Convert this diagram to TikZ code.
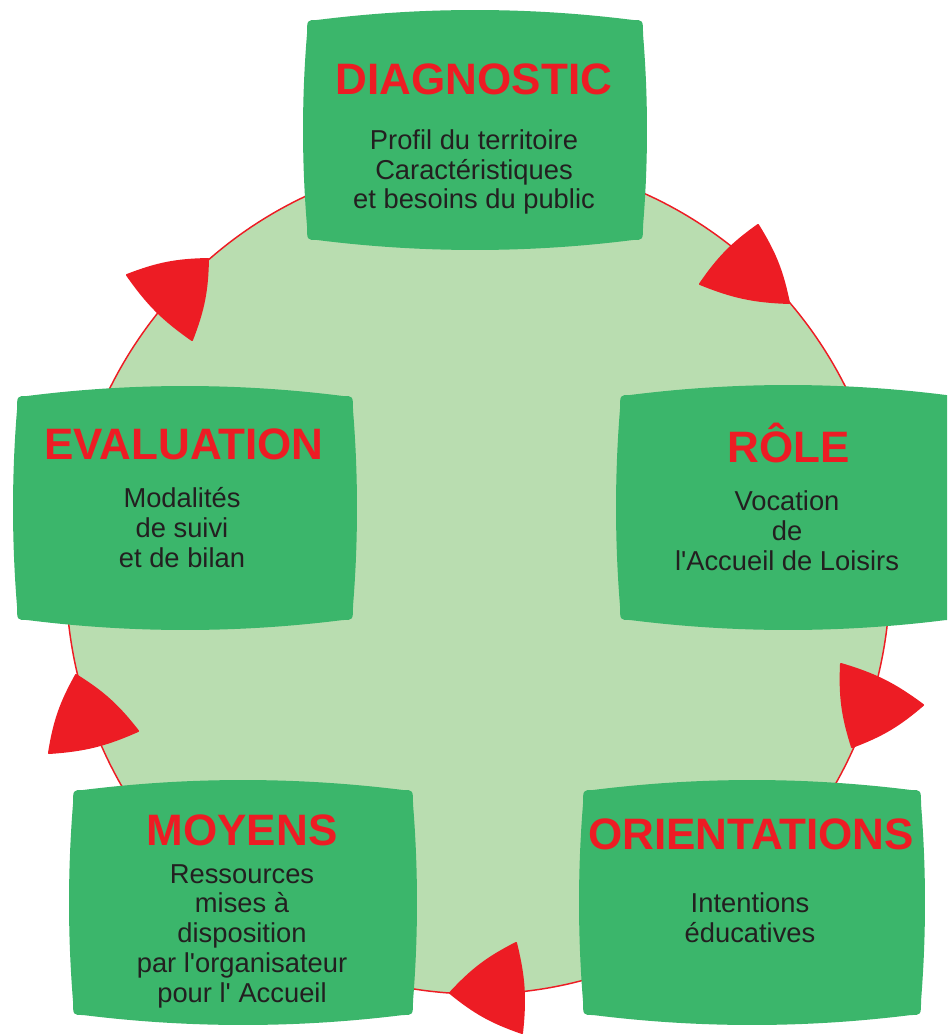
\documentclass[tikz,border=0pt]{standalone}
\usepackage{fontspec}
\setmainfont{Liberation Sans}[Ligatures=TeXOff]
\definecolor{boxgreen}{HTML}{3BB66B}
\definecolor{circgreen}{HTML}{B9DDB0}
\definecolor{tred}{HTML}{ED1C24}
\definecolor{txt}{HTML}{231F20}
\tikzset{
  title/.style={text=tred, font=\fontsize{33}{36}\selectfont\bfseries, inner sep=0pt, anchor=base},
  body/.style={text=txt, font=\fontsize{20.5}{22.3}\selectfont, align=center, inner sep=0pt, anchor=base},
  tvbox/.style={fill=boxgreen},
  arrowhead/.style={fill=tred, draw=tred, line width=1.5pt, line join=round},
  cycleline/.style={fill=circgreen, draw=tred, line width=1.1pt},
}
% #1=x1 #2=y1 #3=x2 #4=y2 (pixels, y downwards)
\newcommand{\tvshape}[4]{%
  \fill[tvbox] (#1+14,#2+10)
    .. controls ({#1+14+(#3-#1-28)/3},{#2-3.3}) and ({#3-14-(#3-#1-28)/3},{#2-3.3}) .. (#3-14,#2+10)
    .. controls (#3-4,#2+10) .. (#3-4,#2+24)
    .. controls ({#3+1.3},{#2+24+(#4-#2-48)/3}) and ({#3+1.3},{#4-24-(#4-#2-48)/3}) .. (#3-4,#4-24)
    .. controls (#3-4,#4-10) .. (#3-14,#4-10)
    .. controls ({#3-14-(#3-#1-28)/3},{#4+3.3}) and ({#1+14+(#3-#1-28)/3},{#4+3.3}) .. (#1+14,#4-10)
    .. controls (#1+4,#4-10) .. (#1+4,#4-24)
    .. controls ({#1-1.3},{#4-24-(#4-#2-48)/3}) and ({#1-1.3},{#2+24+(#4-#2-48)/3}) .. (#1+4,#2+24)
    .. controls (#1+4,#2+10) .. cycle;%
}
\begin{document}
\begin{tikzpicture}[x=0.75pt,y=-0.75pt]
\useasboundingbox (0,0) rectangle (947,1034);
\clip (0,0) rectangle (947,1034);
\fill[white] (0,0) rectangle (947,1034);

% cycle
\draw[cycleline] (478,576) ellipse [x radius=309pt, y radius=313.5pt];

% arrowheads
\fill[arrowhead] (758,225) to[bend left=10] (789,303) to[bend left=10] (700,284) to[bend left=10] (758,225) -- cycle;
\fill[arrowhead] (841,664) to[bend left=10] (923,705) to[bend left=10] (852,747) to[bend left=10] (841,664) -- cycle;
\fill[arrowhead] (516,943) to[bend left=10] (522,1033) to[bend left=10] (450,993) to[bend left=10] (516,943) -- cycle;
\fill[arrowhead] (76,675) to[bend left=10] (138,731) to[bend left=10] (49,753) to[bend left=10] (76,675) -- cycle;
\fill[arrowhead] (127,275) to[bend left=10] (208,259) to[bend left=10] (192,340) to[bend left=10] (127,275) -- cycle;

% boxes
\tvshape{303}{10}{647}{250}
\tvshape{616}{385}{960}{630}
\tvshape{579}{780}{925}{1025}
\tvshape{69}{780}{417}{1025}
\tvshape{13}{386}{357}{630}

% texts (body nodes anchored at the baseline of their last line)
\node[title] (diagT) at (474,95) {DIAGNOSTIC};
\node[body] (diagB) at (474,209) {Profil du territoire\\Caractéristiques\\et besoins du public};

\node[title] (roleT) at (789,462) {RÔLE};
\node[body] (roleB) at (787,570) {Vocation\\de\\l'Accueil de Loisirs};

\node[title] (oriT) at (751,849) {ORIENTATIONS};
\node[body] (oriB) at (750,942) {Intentions\\éducatives};

\node[title] (moyT) at (242,845) {MOYENS};
\node[body] (moyB) at (242,1002) {Ressources\\mises à\\disposition\\par l'organisateur\\pour l' Accueil};

\node[title] (evalT) at (184,459) {EVALUATION};
\node[body] (evalB) at (182,567) {Modalités\\de suivi\\et de bilan};
\end{tikzpicture}
\end{document}
